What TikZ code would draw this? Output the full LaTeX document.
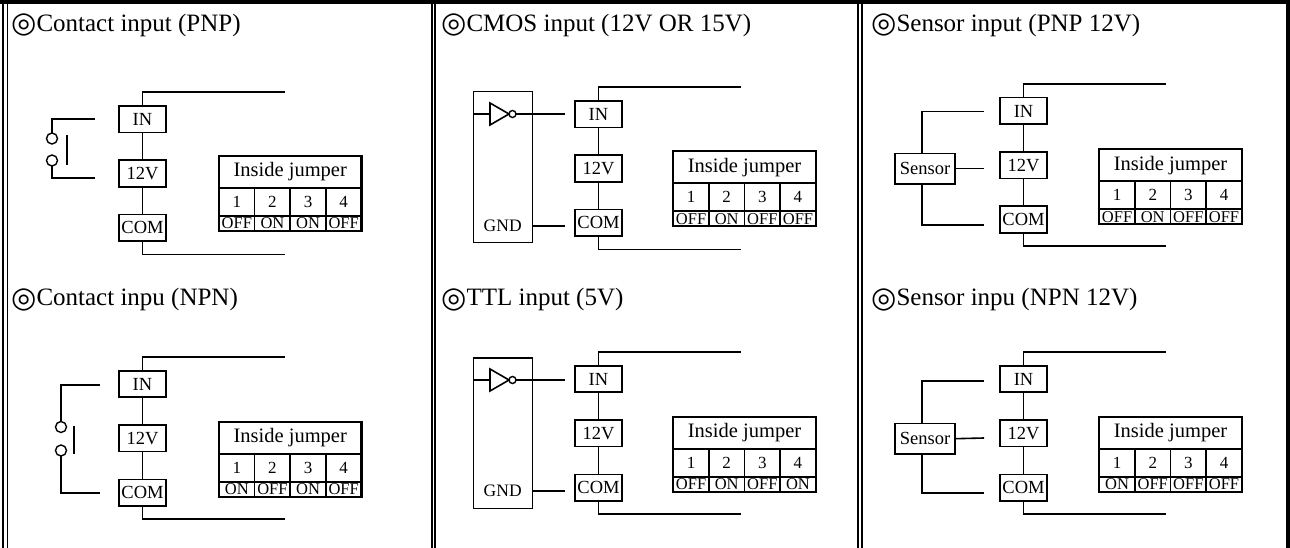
\documentclass[tikz,border=0pt]{standalone}
\usepackage{fontspec}
\setmainfont{Liberation Serif}
\newfontfamily\symfont{DejaVu Sans}
\tikzset{
  wire/.style={line width=1.6pt},
  term/.style={draw, line width=1.6pt, minimum width=47pt, minimum height=26.5pt, inner sep=0pt, outer sep=0pt, font=\fontsize{18.5}{18.5}\selectfont},
  ttl/.style={anchor=base west, inner sep=0pt, font=\fontsize{25}{28}\selectfont},
  jhead/.style={draw, line width=1.6pt, minimum width=142.5pt, minimum height=32.3pt, inner sep=0pt, outer sep=0pt, font=\fontsize{20.5}{20.5}\selectfont},
  jnum/.style={draw, line width=1.6pt, minimum width=35.625pt, minimum height=28pt, inner sep=0pt, outer sep=0pt, font=\fontsize{17}{17}\selectfont},
  jst/.style={draw, line width=1.6pt, minimum width=35.625pt, minimum height=14.7pt, inner sep=0pt, outer sep=0pt, font=\fontsize{16.5}{16.5}\selectfont},
  sens/.style={draw, line width=1.6pt, minimum width=60pt, minimum height=30.7pt, inner sep=0pt, outer sep=0pt, font=\fontsize{18.5}{18.5}\selectfont},
  gate/.style={draw, line width=1.6pt, minimum width=59pt, inner sep=0pt, outer sep=0pt},
  lbl/.style={inner sep=0pt, font=\fontsize{17.5}{17.5}\selectfont},
  bubble/.style={circle, draw, line width=1.4pt, minimum size=7pt, inner sep=0pt, outer sep=0pt},
  contact/.style={circle, draw, line width=1.4pt, minimum size=11pt, inner sep=0pt, outer sep=0pt},
  outerline/.style={line width=2pt},
  innerline/.style={line width=1.5pt}
}
\newcommand\dblcirc{{\fontsize{29}{29}\symfont\raisebox{-1.5pt}{◎}}}
\newcommand\terms[3]{%
  \node[term] (#1in) at (#2,#3+13.25) {IN};
  \node[term] (#1v) at (#2,#3+67.55) {12V};
  \node[term] (#1com) at (#2,#3+121.85) {COM};
  \coordinate (#1top) at (#2+142,#3-13.7);
  \coordinate (#1bot) at (#2+142,#3+148.3);
  \draw[wire] (#1in.north) |- (#1top);
  \draw[wire] (#1in) -- (#1v);
  \draw[wire] (#1v) -- (#1com);
  \draw[wire] (#1com.south) |- (#1bot);
}
\newcommand\jumper[7]{%
  \node[jhead, anchor=north west] (#1h) at (#2,#3) {Inside jumper};
  \node[jnum, anchor=north west] (#1n1) at (#1h.south west) {1};
  \node[jnum, anchor=north west] (#1n2) at (#1n1.north east) {2};
  \node[jnum, anchor=north west] (#1n3) at (#1n2.north east) {3};
  \node[jnum, anchor=north west] (#1n4) at (#1n3.north east) {4};
  \node[jst, anchor=north west] (#1s1) at (#1n1.south west) {#4};
  \node[jst, anchor=north west] (#1s2) at (#1n2.south west) {#5};
  \node[jst, anchor=north west] (#1s3) at (#1n3.south west) {#6};
  \node[jst, anchor=north west] (#1s4) at (#1n4.south west) {#7};
  \draw[line width=2.2pt] (#1h.north west) rectangle (#1s4.south east);
}
\newcommand\cmosgate[3]{% prefix, y of inverter line, gnd y
  \node[gate, minimum height=150.6pt] (#1g) at (502.8,#2+53) {};
  \node[lbl] (#1gnd) at (502.7,#3) {GND};
  \coordinate (#1i1) at (490,#2);
  \draw[wire] (#1g.west |- #1i1) -- (#1i1);
  \draw[wire, line join=miter] (490,#2-11) -- (509,#2) -- (490,#2+11) -- cycle;
  \node[bubble] (#1b) at (512.5,#2) {};
  \coordinate (#1ie) at (565,#2);
  \draw[wire] (#1b.east) -- (#1ie);
  \coordinate (#1ge) at (565,#3);
  \draw[wire] (#1g.east |- #1ge) -- (#1ge);
}
\newcommand\sensor[5]{% prefix, center y, top y, mid y, bottom y
  \node[sens] (#1s) at (925,#2) {Sensor};
  \coordinate (#1w1) at (984,#3);
  \coordinate (#1w2) at (984,#4);
  \coordinate (#1w3) at (984,#5);
  \draw[wire] ([xshift=-3pt]#1s.north) |- (#1w1);
  \draw[wire] (#1s.east) -- (#1w2);
  \draw[wire] ([xshift=-3pt]#1s.south) |- (#1w3);
}
\begin{document}
\begin{tikzpicture}[x=1pt,y=-1pt]
\useasboundingbox (0,0) rectangle (1290,548);
% frame
\draw[line width=3.6pt] (0,2) -- (1290,2);
\draw[outerline] (2.5,0) -- (2.5,548);
\draw[innerline] (7.5,3.5) -- (7.5,548);
\draw[outerline] (431.5,3.5) -- (431.5,548);
\draw[innerline] (435,3.5) -- (435,548);
\draw[outerline] (858,3.5) -- (858,548);
\draw[innerline] (862,3.5) -- (862,548);
\draw[line width=4pt] (1288,0) -- (1288,548);
% titles
\node[ttl] (t1) at (11,31.5) {\dblcirc Contact input (PNP)};
\node[ttl] (t2) at (441,31.5) {\dblcirc CMOS input (12V OR 15V)};
\node[ttl] (t3) at (871,31.5) {\dblcirc Sensor input (PNP 12V)};
\node[ttl] (t4) at (11,305.7) {\dblcirc Contact inpu (NPN)};
\node[ttl] (t5) at (441,305.7) {\dblcirc TTL input (5V)};
\node[ttl] (t6) at (871,305.7) {\dblcirc Sensor inpu (NPN 12V)};
% panel 1
\terms{pa}{142.5}{106}
\node[contact] (pac1) at (52,138.5) {};
\node[contact] (pac2) at (52,160.5) {};
\coordinate (pas1) at (95,119);
\coordinate (pas2) at (95,178);
\draw[wire] (pas1) -| (pac1.north);
\draw[wire] (pac2.south) |- (pas2);
\draw[wire] (66.7,135) -- (66.7,165);
\jumper{pa}{219}{155.7}{OFF}{ON}{ON}{OFF}
% panel 4
\terms{pd}{142.5}{370.7}
\node[contact] (pdc1) at (61,427) {};
\node[contact] (pdc2) at (61,450.5) {};
\coordinate (pds1) at (100,384.7);
\coordinate (pds2) at (100,493);
\draw[wire] (pds1) -| (pdc1.north);
\draw[wire] (pdc2.south) |- (pds2);
\draw[wire] (74,425.7) -- (74,454);
\jumper{pd}{219}{421.7}{ON}{OFF}{ON}{OFF}
% panel 2
\terms{pb}{598.5}{101}
\cmosgate{pb}{114}{226}
\jumper{pb}{673.3}{151}{OFF}{ON}{OFF}{OFF}
% panel 5
\terms{pe}{598.5}{365.7}
\cmosgate{pe}{380}{490.7}
\jumper{pe}{673.3}{416.7}{OFF}{ON}{OFF}{ON}
% panel 3
\terms{pc}{1023.5}{97.7}
\sensor{pc}{168.7}{111.7}{168.7}{225}
\jumper{pc}{1099.3}{149}{OFF}{ON}{OFF}{OFF}
% panel 6
\terms{pf}{1023.5}{365.7}
\sensor{pf}{438.7}{380.7}{438}{493}
\jumper{pf}{1099.3}{416.7}{ON}{OFF}{OFF}{OFF}
\end{tikzpicture}
\end{document}
